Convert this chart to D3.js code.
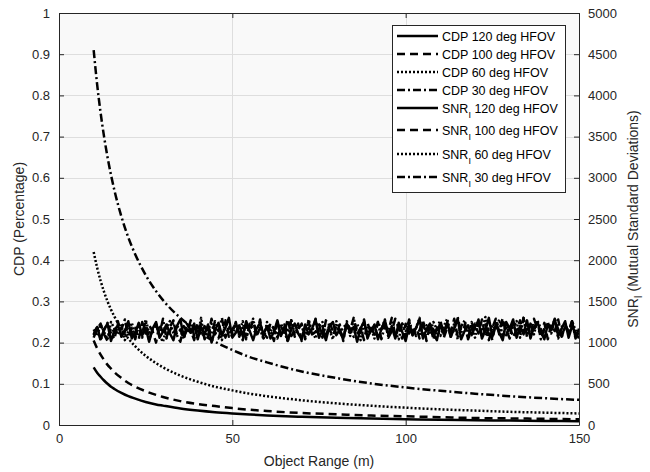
<!DOCTYPE html>
<html><head><meta charset="utf-8">
<script src="https://cdn.jsdelivr.net/npm/d3@7"></script>
<style>body{margin:0;background:#fff;} svg{display:block;font-family:"Liberation Sans",Arial,Helvetica,sans-serif;}</style>
</head><body>
<svg id="c" width="650" height="472"></svg>
<script>
// ---- data ----
const cdpRange = [10,11,12,13,14,15,16,18,20,22,25,28,30,35,40,45,50,55,60,70,80,90,100,110,120,130,140,150];
const cdp120 = [0.14,0.127,0.117,0.108,0.1,0.093,0.0875,0.078,0.07,0.064,0.056,0.05,0.047,0.04,0.035,0.031,0.028,0.0255,0.0233,0.02,0.0175,0.0156,0.014,0.0127,0.0117,0.0108,0.01,0.0093];
const cdp100 = [0.205,0.186,0.171,0.158,0.146,0.137,0.128,0.114,0.102,0.093,0.082,0.073,0.068,0.058,0.051,0.046,0.041,0.037,0.034,0.029,0.026,0.023,0.021,0.019,0.017,0.016,0.015,0.014];
const cdp60 = [0.42,0.382,0.35,0.323,0.3,0.28,0.263,0.233,0.21,0.191,0.168,0.15,0.14,0.12,0.105,0.093,0.084,0.076,0.07,0.06,0.0525,0.0467,0.042,0.038,0.035,0.032,0.03,0.028];
const cdp30 = [0.91,0.827,0.758,0.7,0.65,0.607,0.569,0.506,0.455,0.414,0.364,0.325,0.303,0.26,0.228,0.202,0.182,0.165,0.152,0.13,0.114,0.101,0.091,0.083,0.076,0.07,0.065,0.061];

const snrRangeStart = 10; // snr samples at ranges 10,11,...,150
const snr120 = [1100,1190,1040,1160,1230,1020,1150,1210,1080,1130,
1260,1050,1120,1240,1090,1180,1010,1170,1250,1060,
1130,1220,1110,1030,1200,1280,1070,1160,1120,1230,
1040,1190,1100,1220,1000,1150,1240,1090,1180,1300,
1060,1120,1210,1080,1260,1140,1030,1170,1240,1100,
1200,1050,1130,1270,1080,1190,1020,1160,1230,1110,
1040,1220,1100,1170,1280,1060,1150,1030,1200,1250,
1090,1160,1050,1230,1120,1190,1010,1170,1260,1070,
1140,1220,1040,1160,1270,1100,1190,1050,1240,1130,
1020,1210,1090,1180,1280,1050,1160,1230,1110,1030,
1220,1120,1250,1070,1170,1290,1040,1140,1210,1090,
1190,1260,1050,1150,1300,1070,1220,1120,1030,1250,
1170,1280,1060,1200,1100,1270,1050,1190,1240,1130,
1040,1220,1150,1290,1080,1170,1260,1060,1200,1120,
1050];
const snr100 = [1060,1170,1230,1100,1020,1190,1120,1260,1070,1150,
1220,1090,1180,1040,1250,1110,1210,1140,1000,1230,
1120,1060,1190,1270,1100,1160,1040,1220,1150,1030,
1240,1110,1200,1080,1290,1130,1050,1180,1250,1070,
1160,1230,1090,1030,1210,1140,1270,1080,1180,1120,
1060,1240,1160,1050,1200,1110,1290,1080,1150,1230,
1020,1180,1250,1100,1130,1220,1060,1270,1160,1080,
1200,1130,1040,1230,1150,1300,1090,1180,1030,1240,
1110,1210,1070,1160,1260,1060,1140,1290,1170,1050,
1230,1110,1200,1080,1150,1270,1020,1210,1160,1090,
1250,1060,1180,1130,1290,1080,1200,1260,1040,1160,
1230,1110,1280,1070,1180,1030,1240,1140,1300,1090,
1210,1060,1160,1270,1120,1200,1080,1290,1170,1110,
1240,1040,1220,1140,1280,1070,1190,1150,1260,1060,
1170];
const snr60 = [1160,1080,1220,1130,1040,1250,1170,1100,1210,1030,
1140,1240,1090,1190,1060,1280,1120,1160,1230,1080,
1010,1180,1260,1110,1210,1140,1050,1240,1120,1190,
1090,1300,1040,1160,1230,1100,1180,1030,1270,1140,
1070,1220,1120,1260,1060,1180,1290,1090,1160,1040,
1250,1130,1200,1070,1230,1140,1010,1270,1110,1180,
1210,1070,1280,1140,1050,1200,1250,1100,1160,1040,
1260,1120,1180,1230,1080,1290,1140,1030,1220,1110,
1180,1050,1250,1160,1280,1070,1200,1120,1040,1230,
1140,1260,1090,1180,1300,1060,1210,1120,1250,1160,
1080,1200,1290,1100,1230,1040,1180,1270,1120,1190,
1060,1250,1140,1310,1090,1210,1160,1280,1070,1230,
1120,1190,1260,1060,1300,1140,1220,1100,1270,1170,
1080,1240,1140,1290,1050,1190,1230,1120,1260,1150,
1100];
const snr30 = [1090,1200,1020,1150,1240,1110,1050,1220,1160,1280,
1070,1180,1040,1230,1120,1260,1030,1160,1210,1100,
1290,1050,1140,1250,1090,1010,1200,1120,1270,1070,
1160,1230,1040,1180,1100,1260,1140,1300,1060,1200,
1120,1250,1070,1180,1040,1230,1160,1100,1280,1050,
1200,1140,1020,1250,1090,1220,1120,1270,1070,1160,
1230,1040,1180,1120,1290,1090,1200,1050,1250,1140,
1110,1220,1020,1260,1160,1070,1230,1120,1280,1050,
1180,1100,1250,1040,1200,1140,1300,1090,1160,1230,
1070,1280,1120,1200,1050,1260,1140,1220,1040,1180,
1270,1100,1230,1070,1160,1310,1120,1200,1050,1250,
1140,1280,1090,1220,1030,1180,1290,1100,1250,1160,
1050,1260,1200,1120,1300,1070,1230,1140,1270,1040,
1170,1250,1110,1290,1160,1060,1220,1120,1260,1050,
1140];

const xTicks = [0,50,100,150];
const yLeftTicks = [0,0.1,0.2,0.3,0.4,0.5,0.6,0.7,0.8,0.9,1];
const yRightTicks = [0,500,1000,1500,2000,2500,3000,3500,4000,4500,5000];
const legendLabels = ["CDP 120 deg HFOV","CDP 100 deg HFOV","CDP 60 deg HFOV","CDP 30 deg HFOV",
  "120 deg HFOV","100 deg HFOV","60 deg HFOV","30 deg HFOV"];

// ---- layout ----
const L=59, R=579, T=13, B=425;
const svg = d3.select("#c");
const x = d3.scaleLinear().domain([0,150]).range([L,R]);
const yL = d3.scaleLinear().domain([0,1]).range([B,T]);
const yR = d3.scaleLinear().domain([0,5000]).range([B,T]);

const dashes = [null, "8,5", "2,2", "8,3,2,3"];
const axisColor = "#262626";

svg.append("rect").attr("x",L).attr("y",T).attr("width",R-L).attr("height",B-T).attr("fill","#f9f9f9");

// grid
const grid = svg.append("g").attr("stroke","#dedede").attr("stroke-width",1);
yLeftTicks.slice(1,-1).forEach(v=>{
  grid.append("line").attr("x1",L).attr("x2",R).attr("y1",Math.round(yL(v))+0.5).attr("y2",Math.round(yL(v))+0.5);
});
xTicks.slice(1,-1).forEach(v=>{
  grid.append("line").attr("y1",T).attr("y2",B).attr("x1",Math.round(x(v))+0.5).attr("x2",Math.round(x(v))+0.5);
});

// CDP lines
const lineL = d3.line().x((d,i)=>x(cdpRange[i])).y(d=>yL(d)).curve(d3.curveMonotoneX);
[cdp120,cdp100,cdp60,cdp30].forEach((s,i)=>{
  svg.append("path").attr("d",lineL(s)).attr("fill","none").attr("stroke","#000")
    .attr("stroke-width",2.5).attr("stroke-dasharray",dashes[i]);
});
// SNR lines
const lineR = d3.line().x((d,i)=>x(snrRangeStart+i)).y(d=>yR(d));
[snr120,snr100,snr60,snr30].forEach((s,i)=>{
  svg.append("path").attr("d",lineR(s)).attr("fill","none").attr("stroke","#000")
    .attr("stroke-width",2.5).attr("stroke-linejoin","round").attr("stroke-dasharray",dashes[i]);
});

// axes
const fs = 13;
const axB = svg.append("g").attr("transform",`translate(0,${B})`)
  .call(d3.axisBottom(x).tickValues(xTicks).tickSizeInner(-5).tickSizeOuter(0).tickPadding(9));
const axT = svg.append("g").attr("transform",`translate(0,${T})`)
  .call(d3.axisTop(x).tickValues(xTicks).tickSizeInner(-5).tickSizeOuter(0).tickFormat(""));
const axLf = svg.append("g").attr("transform",`translate(${L},0)`)
  .call(d3.axisLeft(yL).tickValues(yLeftTicks).tickSizeInner(-5).tickSizeOuter(0).tickPadding(9).tickFormat(d3.format("")));
const axRt = svg.append("g").attr("transform",`translate(${R},0)`)
  .call(d3.axisRight(yR).tickValues(yRightTicks).tickSizeInner(-5).tickSizeOuter(0).tickPadding(9).tickFormat(d3.format("d")));
[axB,axT,axLf,axRt].forEach(a=>{
  a.selectAll("path").attr("stroke",axisColor);
  a.selectAll("line").attr("stroke",axisColor);
  a.selectAll("text").attr("fill","#262626").style("font-size",fs+"px").style("font-family","Liberation Sans, Arial, sans-serif");
});

// axis titles
svg.append("text").attr("x",(L+R)/2).attr("y",466).attr("text-anchor","middle")
  .style("font-size","14px").attr("fill","#262626").text("Object Range (m)");
svg.append("text").attr("transform",`translate(24,${(T+B)/2}) rotate(-90)`).attr("text-anchor","middle")
  .style("font-size","14px").attr("fill","#262626").text("CDP (Percentage)");
const rt = svg.append("text").attr("transform",`translate(638,${(T+B)/2}) rotate(-90)`).attr("text-anchor","middle")
  .style("font-size","14px").attr("fill","#262626");
rt.append("tspan").text("SNR");
rt.append("tspan").attr("dy",4).style("font-size","10px").text("I");
rt.append("tspan").attr("dy",-4).text(" (Mutual Standard Deviations)");

// legend
const lg = svg.append("g");
lg.append("rect").attr("x",392.5).attr("y",25.5).attr("width",173).attr("height",167)
  .attr("fill","#fff").attr("stroke","#262626").attr("stroke-width",1);
const rowY = [36,54,72,90,108,130,154,177];
legendLabels.forEach((lab,i)=>{
  const yy = rowY[i];
  lg.append("line").attr("x1",397).attr("x2",438).attr("y1",yy).attr("y2",yy)
    .attr("stroke","#000").attr("stroke-width",2.5).attr("stroke-dasharray",dashes[i%4]);
  const t = lg.append("text").attr("x",442).attr("y",yy+4.5).style("font-size","12.5px").attr("fill","#000");
  if(i<4){ t.text(lab); }
  else {
    t.append("tspan").text("SNR");
    t.append("tspan").attr("dy",5).style("font-size","9px").text("I");
    t.append("tspan").attr("dy",-5).text(" "+lab);
  }
});
</script>
</body></html>
